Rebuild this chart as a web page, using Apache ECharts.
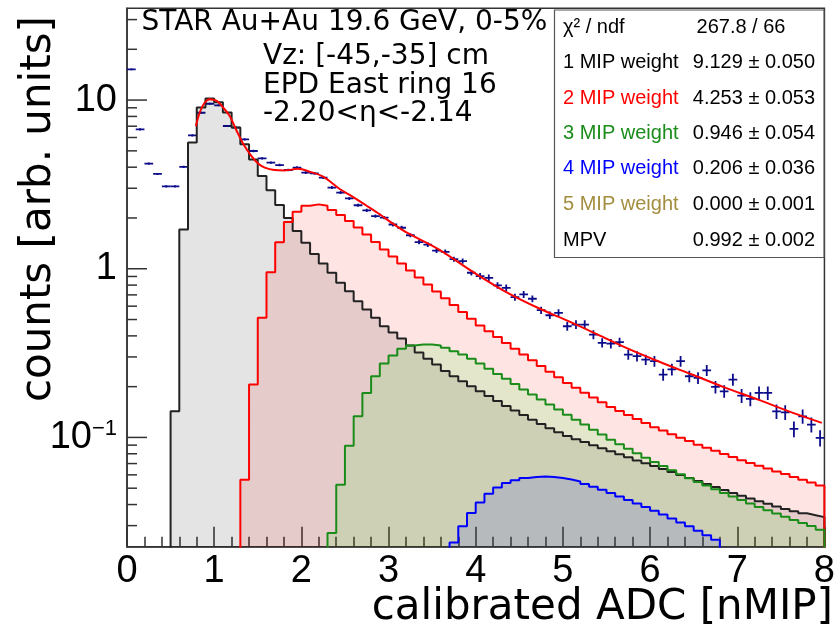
<!DOCTYPE html>
<html>
<head>
<meta charset="utf-8">
<script src="https://cdn.jsdelivr.net/npm/echarts@6/dist/echarts.min.js"></script>
<style>
  html, body { margin: 0; padding: 0; background: #ffffff; }
  #chart { width: 838px; height: 633px; }
</style>
</head>
<body>
<div id="chart"></div>
<script>
// ---- binning ----
const BIN_WIDTH = 0.1;
const X_MIN = 0, X_MAX = 8;
const Y_MIN = 0.0225, Y_MAX = 35;

// measured spectrum (bins of 0.1 nMIP from 0 to 8)
const dataCounts = [
  15.2, 6.71, 4.20, 3.65, 3.08, 3.08, 4.02, 6.18, 8.41, 9.51,
  9.31, 7.02, 6.87, 5.85, 4.99, 4.51, 4.26, 4.12, 3.85, 3.98,
  3.71, 3.68, 3.47, 3.03, 2.83, 2.61, 2.38, 2.22, 2.05, 2.01,
  1.83, 1.75, 1.58, 1.44, 1.39, 1.28, 1.26, 1.14, 1.11, 0.947,
  0.904, 0.884, 0.796, 0.771, 0.678, 0.704, 0.664, 0.568, 0.530, 0.548,
  0.456, 0.467, 0.467, 0.407, 0.364, 0.360, 0.367, 0.310, 0.303, 0.289,
  0.283, 0.236, 0.253, 0.283, 0.2305, 0.2255, 0.250, 0.1994, 0.1877, 0.2203,
  0.177, 0.1693, 0.1837, 0.1837, 0.1428, 0.1409, 0.1123, 0.1334, 0.1191, 0.0993
];
const dataErrors = [
  0.2, 0.1, 0.06, 0.05, 0.05, 0.05, 0.06, 0.09, 0.12, 0.13,
  0.13, 0.1, 0.1, 0.09, 0.08, 0.07, 0.07, 0.07, 0.06, 0.07,
  0.07, 0.07, 0.07, 0.06, 0.06, 0.055, 0.05, 0.05, 0.045, 0.045,
  0.05, 0.05, 0.045, 0.045, 0.045, 0.04, 0.04, 0.04, 0.04, 0.035,
  0.04, 0.04, 0.035, 0.035, 0.032, 0.033, 0.031, 0.028, 0.027, 0.028,
  0.027, 0.028, 0.028, 0.025, 0.023, 0.023, 0.023, 0.021, 0.021, 0.02,
  0.021, 0.019, 0.02, 0.021, 0.018, 0.018, 0.019, 0.017, 0.016, 0.018,
  0.017, 0.016, 0.017, 0.017, 0.014, 0.014, 0.012, 0.013, 0.012, 0.011
];

// n-MIP components of the fit, bin contents from the given lower edge
const mip1Start = 0.5;
const mip1 = [
  0.1428, 1.711, 5.595, 9.03, 10.22, 9.70, 8.43, 6.87, 5.47, 4.45,
  3.55, 2.92, 2.39, 2.00, 1.672, 1.427, 1.224, 1.075, 0.947, 0.826,
  0.736, 0.642, 0.573, 0.512, 0.456, 0.419, 0.386, 0.3505, 0.3187, 0.2923,
  0.2704, 0.248, 0.2305, 0.2153, 0.2010, 0.1877, 0.1758, 0.1642, 0.1538, 0.1442,
  0.1356, 0.1275, 0.1202, 0.1135, 0.1075, 0.1021, 0.0977, 0.0938, 0.0900, 0.0864,
  0.0829, 0.0795, 0.0762, 0.0731, 0.0703, 0.0676, 0.0649, 0.0623, 0.0598, 0.0574,
  0.0551, 0.0529, 0.0508, 0.0488, 0.0469, 0.0451, 0.0434, 0.0419, 0.0404, 0.0390,
  0.0377, 0.0365, 0.0355, 0.0346, 0.0337
];
const mip2Start = 1.3;
const mip2 = [
  0.0562, 0.2057, 0.512, 0.954, 1.438, 1.890, 2.179, 2.365, 2.408, 2.365,
  2.233, 2.086, 1.921, 1.758, 1.598, 1.442, 1.302, 1.183, 1.075, 0.977,
  0.888, 0.807, 0.733, 0.668, 0.609, 0.555, 0.506, 0.461, 0.4257, 0.3933,
  0.3633, 0.3355, 0.3100, 0.2868, 0.2653, 0.2454, 0.2270, 0.2100, 0.1967, 0.1842,
  0.1725, 0.1616, 0.1513, 0.1432, 0.1356, 0.1284, 0.1216, 0.1151, 0.1098, 0.1046,
  0.0997, 0.0951, 0.0906, 0.0869, 0.0833, 0.0798, 0.0765, 0.0733, 0.0706, 0.0679,
  0.0654, 0.0629, 0.0606, 0.0583, 0.0561, 0.0540, 0.0518
];
const mip3Start = 2.3;
const mip3 = [
  0.0271, 0.0525, 0.0894, 0.1334, 0.1837, 0.2305, 0.2742, 0.3058, 0.3350, 0.3505,
  0.3553, 0.3553, 0.3505, 0.3397, 0.3243, 0.3100, 0.2923, 0.2742, 0.2550, 0.2381,
  0.2224, 0.2077, 0.1921, 0.1795, 0.1676, 0.1565, 0.1462, 0.1365, 0.1275, 0.1191,
  0.1112, 0.1039, 0.0970, 0.0912, 0.0858, 0.0807, 0.0759, 0.0716, 0.0676, 0.0638,
  0.0604, 0.0573, 0.0544, 0.0518, 0.0493, 0.0469, 0.0447, 0.0426, 0.0406, 0.0387,
  0.0370, 0.0354, 0.0339, 0.0324, 0.0311, 0.0298, 0.0284
];
const mip4Start = 3.7;
const mip4 = [
  0.0238, 0.0297, 0.0356, 0.0412, 0.0464, 0.0504, 0.0536, 0.0558, 0.0575, 0.0583,
  0.0587, 0.0583, 0.0575, 0.0563, 0.0548, 0.0530, 0.0510, 0.0490, 0.0468, 0.0447,
  0.0426, 0.0406, 0.0387, 0.0368, 0.0349, 0.0331, 0.0313, 0.0297, 0.0280, 0.0263,
  0.0247, 0.0210, 0.0196
];
const EMPTY_BIN = 0.001;   // empty bins sit below the visible range

// total fit function
const fitX = [0.79, 0.835, 0.89, 0.95, 1.03, 1.10, 1.18, 1.26, 1.35, 1.43,
  1.50, 1.58, 1.69, 1.81, 1.96, 2.11, 2.25, 2.44, 2.59, 2.74,
  2.90, 3.05, 3.20, 3.58, 3.96, 4.34, 4.73, 5.07, 5.40, 5.72,
  6.10, 6.48, 6.86, 7.24, 7.60, 7.97];
const fitY = [6.99, 8.47, 9.64, 10.11, 9.88, 9.06, 8.01, 6.53, 5.32, 4.64,
  4.22, 3.98, 3.85, 3.83, 3.91, 3.74, 3.52, 2.97, 2.67, 2.38,
  2.10, 1.85, 1.65, 1.30, 0.964, 0.733, 0.581, 0.487, 0.407, 0.341,
  0.282, 0.236, 0.1975, 0.1676, 0.1422, 0.122];

// axis ticks
const yMajorTicks = [0.1, 1, 10];
const yMinorTicks = [0.03, 0.04, 0.05, 0.06, 0.07, 0.08, 0.09,
  0.2, 0.3, 0.4, 0.5, 0.6, 0.7, 0.8, 0.9,
  2, 3, 4, 5, 6, 7, 8, 9, 20, 30];

// fit results box
const statRows = [
  { label: 'χ² / ndf', value: '267.8 / 66', color: '#000000' },
  { label: '1 MIP weight', value: '9.129 ± 0.050', color: '#000000' },
  { label: '2 MIP weight', value: '4.253 ± 0.053', color: '#ff0000' },
  { label: '3 MIP weight', value: '0.946 ± 0.054', color: '#1a8c1a' },
  { label: '4 MIP weight', value: '0.206 ± 0.036', color: '#0000ff' },
  { label: '5 MIP weight', value: '0.000 ± 0.001', color: '#a38d3e' },
  { label: 'MPV', value: '0.992 ± 0.002', color: '#000000' }
];
const infoLines = ['STAR Au+Au 19.6 GeV, 0-5%', 'Vz: [-45,-35] cm', 'EPD East ring 16', '-2.20<η<-2.14'];

// ---- helpers ----
function histPoints(start, values) {
  const pts = [[start, EMPTY_BIN]];
  values.forEach((v, i) => pts.push([+(start + i * BIN_WIDTH).toFixed(3), v]));
  const end = +(start + values.length * BIN_WIDTH).toFixed(3);
  pts.push([end, values[values.length - 1]]);
  pts.push([end, EMPTY_BIN]);
  return pts;
}
function histSeries(name, start, values, lineColor, fillColor) {
  return {
    name, type: 'line', step: 'end', data: histPoints(start, values),
    showSymbol: false, symbol: 'none', clip: true, silent: true,
    lineStyle: { color: lineColor, width: 2 },
    areaStyle: { color: fillColor, origin: 'start' }
  };
}

const dataPoints = dataCounts.map((v, i) => [+(i * BIN_WIDTH + BIN_WIDTH / 2).toFixed(3), v, dataErrors[i]]);
const DATA_COLOR = '#0c0c8a';
const AXIS_COLOR = '#333333';

const yTickData = yMajorTicks.map(v => [X_MIN, v, 1]).concat(yMinorTicks.map(v => [X_MIN, v, 0]));

const graphics = [];
// info text, upper left
const infoPos = [[141.5, 23], [263, 57], [263, 86], [263, 114]];
infoLines.forEach((t, i) => graphics.push({
  type: 'text', x: infoPos[i][0], y: infoPos[i][1], z: 100,
  style: { text: t, font: '28px "DejaVu Sans"', fill: '#000',
    textAlign: 'left', align: 'left', textVerticalAlign: 'middle', verticalAlign: 'middle' }
}));
// fit results box
graphics.push({ type: 'rect', z: 100, shape: { x: 554.5, y: 10, width: 269.5, height: 247.5 },
  style: { fill: '#ffffff', stroke: '#555555', lineWidth: 1.2 } });
const rowY = [27, 62, 98.5, 133.5, 168.5, 204, 240];
statRows.forEach((r, i) => {
  graphics.push({ type: 'text', z: 101, x: 563, y: rowY[i],
    style: { text: r.label, font: '20px "Liberation Sans"', fill: r.color,
      textAlign: 'left', align: 'left', textVerticalAlign: 'middle', verticalAlign: 'middle' } });
  const centered = i === 0;
  graphics.push({ type: 'text', z: 101, x: centered ? 741 : 815, y: rowY[i],
    style: { text: r.value, font: '20px "Liberation Sans"', fill: '#000',
      textAlign: centered ? 'center' : 'right', align: centered ? 'center' : 'right',
      textVerticalAlign: 'middle', verticalAlign: 'middle' } });
});
// axis titles
graphics.push({ type: 'text', z: 100, x: 833, y: 608,
  style: { text: 'calibrated ADC [nMIP]', font: '42px "DejaVu Sans"', fill: '#000',
    textAlign: 'right', align: 'right', textVerticalAlign: 'middle', verticalAlign: 'middle' } });
graphics.push({ type: 'text', z: 100, x: 39.5, y: 16, rotation: Math.PI / 2,
  style: { text: 'counts [arb. units]', font: '42px "DejaVu Sans"', fill: '#000',
    textAlign: 'right', align: 'right', textVerticalAlign: 'middle', verticalAlign: 'middle' } });

const chart = echarts.init(document.getElementById('chart'), null, { renderer: 'canvas' });
chart.setOption({
  animation: false,
  backgroundColor: '#ffffff',
  grid: { left: 127, right: 11.8, top: 8.3, bottom: 86.3, show: true,
    borderColor: AXIS_COLOR, borderWidth: 1.5, backgroundColor: 'transparent' },
  xAxis: {
    type: 'value', min: X_MIN, max: X_MAX, interval: 1,
    axisLine: { show: true, onZero: false, lineStyle: { color: AXIS_COLOR, width: 1.5 } },
    axisTick: { show: true, inside: true, length: 20, lineStyle: { color: AXIS_COLOR, width: 1.5 } },
    minorTick: { show: true, splitNumber: 5, length: 10, lineStyle: { color: AXIS_COLOR, width: 1.5 } },
    splitLine: { show: false }, minorSplitLine: { show: false },
    axisLabel: { fontSize: 38, fontFamily: 'Liberation Sans', color: '#000', margin: 6 }
  },
  yAxis: {
    type: 'log', logBase: 10, min: Y_MIN, max: Y_MAX,
    axisLine: { show: true, onZero: false, lineStyle: { color: AXIS_COLOR, width: 1.5 } },
    axisTick: { show: false },
    splitLine: { show: false },
    axisLabel: {
      fontSize: 38, fontFamily: 'Liberation Sans', color: '#000', margin: 10,
      showMinLabel: false, showMaxLabel: false,
      formatter: function (v) {
        const e = Math.round(Math.log10(v));
        if (Math.abs(Math.log10(v) - e) > 1e-6) return '';
        if (e === 0) return '{one|1}';
        if (e === 1) return '10';
        if (e === -1) return '10{sup|−1}';
        return '';
      },
      rich: {
        sup: { fontSize: 22, fontFamily: 'Liberation Sans', color: '#000', verticalAlign: 'top', padding: [0, 0, 14, 0] },
        one: { fontSize: 38, fontFamily: 'Liberation Sans', color: '#000', padding: [0, 0, 0, 8] }
      }
    }
  },
  series: [
    histSeries('1 MIP', mip1Start, mip1, '#222222', 'rgba(0,0,0,0.15)'),
    histSeries('2 MIP', mip2Start, mip2, '#ff0000', 'rgba(255,0,0,0.15)'),
    histSeries('3 MIP', mip3Start, mip3, '#1a8c1a', 'rgba(0,255,0,0.15)'),
    histSeries('4 MIP', mip4Start, mip4, '#0000ff', 'rgba(0,0,255,0.15)'),
    {
      name: 'data', type: 'custom', data: dataPoints, clip: true, silent: true,
      renderItem: function (params, api) {
        const x = api.value(0), y = api.value(1), e = api.value(2);
        const pL = api.coord([x - BIN_WIDTH / 2, y]);
        const pR = api.coord([x + BIN_WIDTH / 2, y]);
        const pT = api.coord([x, y + e]);
        const pB = api.coord([x, y - e]);
        const st = { stroke: DATA_COLOR, lineWidth: 1.8 };
        return { type: 'group', children: [
          { type: 'line', shape: { x1: pL[0], y1: pL[1], x2: pR[0], y2: pR[1] }, style: st },
          { type: 'line', shape: { x1: pT[0], y1: pT[1], x2: pB[0], y2: pB[1] }, style: st }
        ] };
      }
    },
    {
      name: 'fit', type: 'line', data: fitX.map((x, i) => [x, fitY[i]]),
      smooth: 0.35, showSymbol: false, symbol: 'none', silent: true,
      lineStyle: { color: '#ff0000', width: 2 }
    },
    {
      name: 'y ticks', type: 'custom', data: yTickData, silent: true, z: 10,
      renderItem: function (params, api) {
        const p = api.coord([api.value(0), api.value(1)]);
        const len = api.value(2) ? 20 : 10;
        return { type: 'line', shape: { x1: p[0], y1: p[1], x2: p[0] + len, y2: p[1] },
          style: { stroke: AXIS_COLOR, lineWidth: 1.5 } };
      }
    }
  ],
  graphic: graphics
});
</script>
</body>
</html>
